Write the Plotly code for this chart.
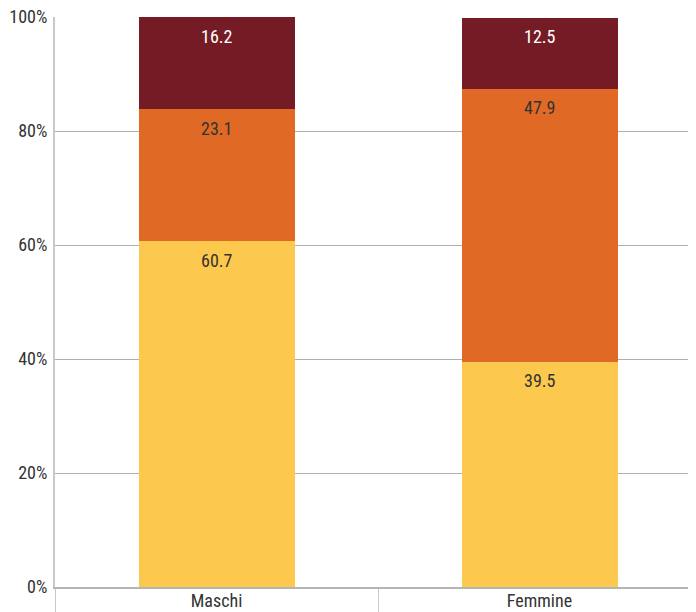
import plotly.graph_objects as go

categories = ["Maschi", "Femmine"]
series_names = ["Basso", "Medio", "Alto"]
low_values = [60.7, 39.5]
mid_values = [23.1, 47.9]
high_values = [16.2, 12.5]
y_tick_values = [0, 20, 40, 60, 80, 100]
y_tick_labels = ["0%", "20%", "40%", "60%", "80%", "100%"]

colors = ["#FCC84E", "#E06A25", "#751B26"]
text_colors = ["#333333", "#333333", "#FFFFFF"]
FONT = "Liberation Sans Narrow, Roboto Condensed, Arial Narrow, Roboto, sans-serif"

fig = go.Figure()
series = [low_values, mid_values, high_values]
base = [0.0] * len(categories)
for name, vals, col, tcol in zip(series_names, series, colors, text_colors):
    fig.add_trace(go.Bar(
        x=categories, y=vals, name=name,
        marker=dict(color=col, line=dict(width=0)),
        hoverinfo="skip",
    ))
    for i, (cat, v) in enumerate(zip(categories, vals)):
        top = round(base[i] + v, 6)
        fig.add_annotation(
            x=cat, y=min(top, 100), text=f"{v:.1f}", showarrow=False,
            xanchor="center", yanchor="middle", yshift=-19,
            font=dict(color=tcol, size=18, family=FONT),
        )
        base[i] = top

# page body adds 8px offset; margins compensate
fig.update_layout(
    barmode="stack",
    bargap=0.517,
    width=696, height=612,
    margin=dict(l=47, r=3, t=9, b=33),
    plot_bgcolor="white", paper_bgcolor="white",
    showlegend=False,
    font=dict(family=FONT, size=18, color="#333333"),
)
fig.update_xaxes(
    showgrid=False, automargin=False,
    showline=True, linecolor="#b5b5b5", linewidth=2,
    ticks="outside", tickson="boundaries", ticklen=25, tickcolor="#c8c8c8", tickwidth=1,
    ticklabelstandoff=-4, ticklabeloverflow="allow",
    tickfont=dict(size=18, color="#333333", family=FONT),
)
fig.update_yaxes(
    range=[0, 100], automargin=False,
    tickvals=y_tick_values, ticktext=y_tick_labels,
    showgrid=True, gridcolor="#b0b0b0", gridwidth=1,
    showline=True, linecolor="#c8c8c8", linewidth=2,
    zeroline=False,
    ticks="", ticklabelstandoff=2, ticklabeloverflow="allow",
    tickfont=dict(size=18, color="#333333", family=FONT),
)
fig.write_html("out.html")
